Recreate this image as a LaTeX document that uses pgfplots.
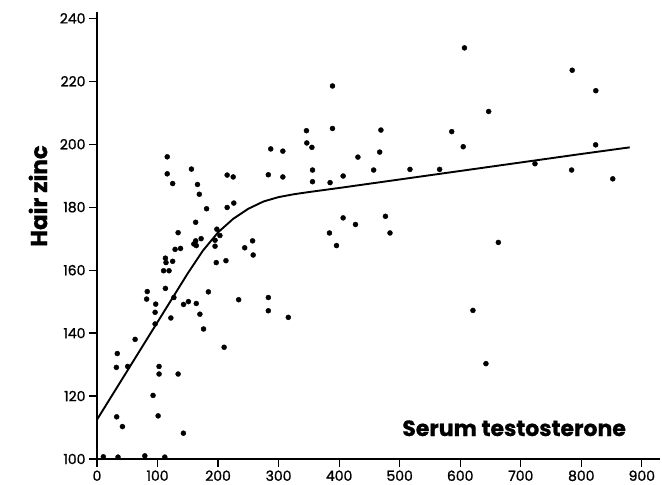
\documentclass[border=0pt]{standalone}
\usepackage{pgfplots}
\pgfplotsset{compat=1.18}
\usepackage{fontspec}
\setmainfont{Poppins}
\newfontfamily\tickfont[FakeBold=1.2]{Poppins}
\newfontfamily\labfont[FakeBold=0.8]{Poppins Bold}
\begin{document}
\begin{tikzpicture}[x=1pt,y=1pt]
\path[use as bounding box] (0,0) rectangle (662,485);
\begin{axis}[
  at={(97pt,26pt)}, anchor=south west,
  scale only axis, width=563pt, height=447pt,
  xmin=0, xmax=930, ymin=100, ymax=242,
  axis lines*=left,
  axis line style={line width=1.6pt},
  xtick={0,100,...,900}, ytick={100,120,...,240},
  tick align=outside, major tick length=8pt,
  tick style={line width=1.2pt, black},
  /pgf/number format/assume math mode=true,
  ticklabel style={font=\tickfont\fontsize{14}{14}\selectfont},
  clip=false,
]
\addplot[only marks, mark=*, mark size=2.5pt, black] coordinates {
(10.5,100.7) (34.7,100.6) (79,101) (112,100.6) (142.7,108.2) (42,110.3)
(32.5,113.4) (101,113.7) (92.6,120.2) (134,127) (102.5,127) (102.5,129.4)
(50.7,129.4) (32,129.1) (33.5,133.5) (210,135.5) (63,138) (176,141.3)
(96,142.9) (122,144.8) (170,146) (96,146.6) (97,149.2) (143,149.1)
(151,150) (164,149.4) (234,150.6) (127,151.3) (82,150.8) (83,153.2)
(184,153.1) (113,154.2) (110,159.8) (119,159.8) (113,163.8) (114,162.4)
(125,162.8) (197,162.4) (213,163) (244,167.1) (258,164.8) (129,166.6)
(138,166.9) (160,168.3) (163,169.3) (172,170) (164,167.8) (195,169.5)
(195,167.6) (203,171) (198,173) (257,169.3) (134,171.9) (163,175.2)
(181,179.5) (215,179.9) (226,181.3) (169,184.1) (166,187.2) (125,187.5)
(215,190.2) (225,189.6) (116,190.6) (156,192.1) (116,196.0) (283,190.3)
(287,198.5) (307,197.8) (307,189.6) (283,151.3) (283,147.1) (316,145)
(346,204.3) (389,205) (469,204.5) (586,204) (346.6,200.4) (355,199)
(467,197.5) (605,199.2) (431,195.9) (356,191.8) (457,191.8) (517,192)
(566,192) (356,188.1) (385,187.8) (406.6,189.9) (406.6,176.6) (427,174.5)
(476.5,177.1) (384,171.8) (484,171.8) (395.6,167.8) (607,230.6) (389,218.5)
(785,223.5) (824,217) (647,210.4) (823.7,199.8) (723.5,193.8) (784,191.8)
(852,189) (663,168.8) (621,147.2) (642.5,130.3)
};
\addplot[black, line width=1.9pt, line join=round, mark=none] coordinates {
(0,112.5) (50,128) (100,143.5) (150,159) (175,166.2) (200,172) (225,176.3)
(250,179.5) (275,181.8) (300,183.2) (325,184.1) (350,184.8) (400,186.1)
(500,188.8) (600,191.5) (700,194.2) (800,196.9) (880,199)
};
\node[anchor=base, font=\labfont\fontsize{22}{22}\selectfont] at (axis cs:689,107.3) {Serum testosterone};
\end{axis}
\node[rotate=90, font=\labfont\fontsize{23}{23}\selectfont] at (38,289) {Hair zinc};
\end{tikzpicture}
\end{document}
